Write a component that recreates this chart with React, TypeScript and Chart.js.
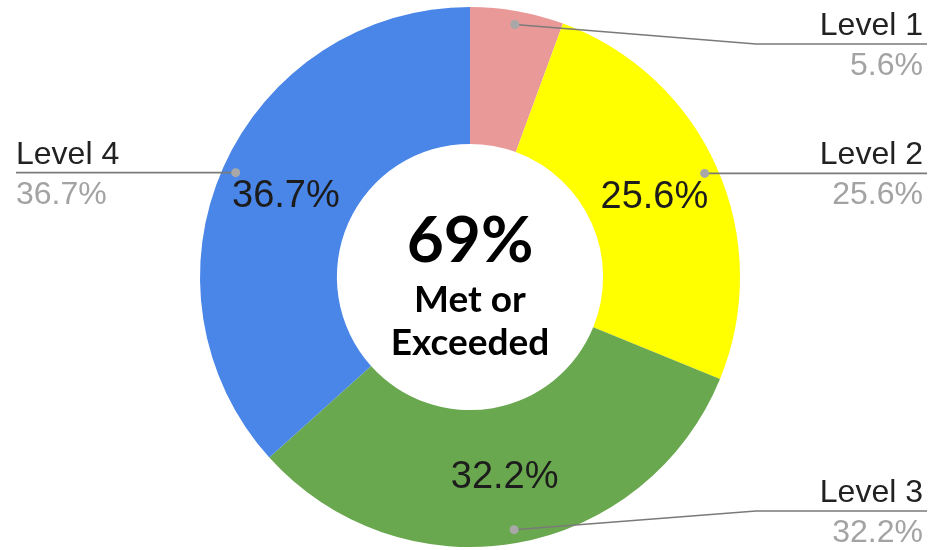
import React, { useEffect, useRef } from "react";
import { Chart, registerables } from "chart.js";

Chart.register(...registerables);

const levels = ["Level 1", "Level 2", "Level 3", "Level 4"];
const shares = [5.6, 25.6, 32.2, 36.7];
const colors = ["#ea9999", "#ffff00", "#6aa84f", "#4a86e8"];
const centerValue = "69%";
const centerLines = ["Met or", "Exceeded"];

const labelFont = "Liberation Sans, Arial, sans-serif";
const centerFont = "Lato, sans-serif";

const labelPlugin = {
  id: "sheetLabels",
  afterDatasetsDraw(chart: any) {
    const ctx = chart.ctx as CanvasRenderingContext2D;
    const area = chart.chartArea;
    const meta = chart.getDatasetMeta(0);
    ctx.save();
    meta.data.forEach((arc: any, i: number) => {
      const p = arc.getProps(["x", "y", "startAngle", "endAngle", "innerRadius", "outerRadius"], true);
      const mid = (p.startAngle + p.endAngle) / 2;
      const cos = Math.cos(mid);
      const sin = Math.sin(mid);
      const txt = shares[i].toFixed(1) + "%";

      // inner value label
      if (shares[i] >= 10) {
        const r = (p.innerRadius + p.outerRadius) / 2;
        ctx.font = `38px ${labelFont}`;
        ctx.fillStyle = "#1c1c1c";
        ctx.textAlign = "center";
        ctx.textBaseline = "middle";
        ctx.fillText(txt, p.x + cos * r, p.y + sin * r + 2);
      }

      // leader line
      const dr = p.outerRadius * 0.95;
      const dx = p.x + cos * dr;
      const dy = p.y + sin * dr;
      const right = cos >= 0;
      const lineY = Math.min(Math.max(dy, area.top + 37), area.bottom - 36);
      const endX = right ? chart.width - 11 : 16;
      ctx.strokeStyle = "#7a7a7a";
      ctx.lineWidth = 1.6;
      ctx.beginPath();
      ctx.moveTo(dx, dy);
      if (Math.abs(lineY - dy) > 0.5) {
        const bendX = p.x + (right ? 1 : -1) * (p.outerRadius + 16);
        ctx.lineTo(bendX, lineY);
      }
      ctx.lineTo(endX, lineY);
      ctx.stroke();

      ctx.fillStyle = "#a8a8a8";
      ctx.beginPath();
      ctx.arc(dx, dy, 4.5, 0, Math.PI * 2);
      ctx.fill();

      // outer text
      ctx.font = `32px ${labelFont}`;
      ctx.textBaseline = "alphabetic";
      ctx.textAlign = right ? "right" : "left";
      const tx = right ? chart.width - 15 : 16;
      ctx.fillStyle = "#222222";
      ctx.fillText(levels[i], tx, lineY - 9);
      ctx.fillStyle = "#a3a3a3";
      ctx.fillText(txt, tx, lineY + 31);
    });

    // center text
    const first = meta.data[0];
    if (first) {
      const cx = first.x;
      const cy = first.y;
      ctx.fillStyle = "#000000";
      ctx.textAlign = "center";
      ctx.textBaseline = "alphabetic";
      ctx.font = `bold 64px ${centerFont}`;
      ctx.fillText(centerValue, cx, cy - 15);
      ctx.font = `bold 37px ${centerFont}`;
      ctx.fillText(centerLines[0], cx, cy + 35);
      ctx.fillText(centerLines[1], cx, cy + 78);
    }
    ctx.restore();
  },
};

export default function App() {
  const ref = useRef<HTMLCanvasElement | null>(null);

  useEffect(() => {
    document.body.style.margin = "0";
    if (!ref.current) return;
    const chart = new Chart(ref.current, {
      type: "doughnut",
      data: {
        labels: levels,
        datasets: [
          {
            data: shares,
            backgroundColor: colors,
            borderWidth: 0,
          },
        ],
      },
      options: {
        animation: false,
        responsive: true,
        maintainAspectRatio: false,
        cutout: "49.3%",
        layout: { padding: { top: 7, bottom: 3, left: 2, right: 0 } },
        plugins: {
          legend: { display: false },
          tooltip: { enabled: false },
        },
      },
      plugins: [labelPlugin],
    });
    return () => chart.destroy();
  }, []);

  return (
    <div style={{ width: 938, height: 550, position: "relative", background: "#ffffff" }}>
      <canvas ref={ref} />
    </div>
  );
}
